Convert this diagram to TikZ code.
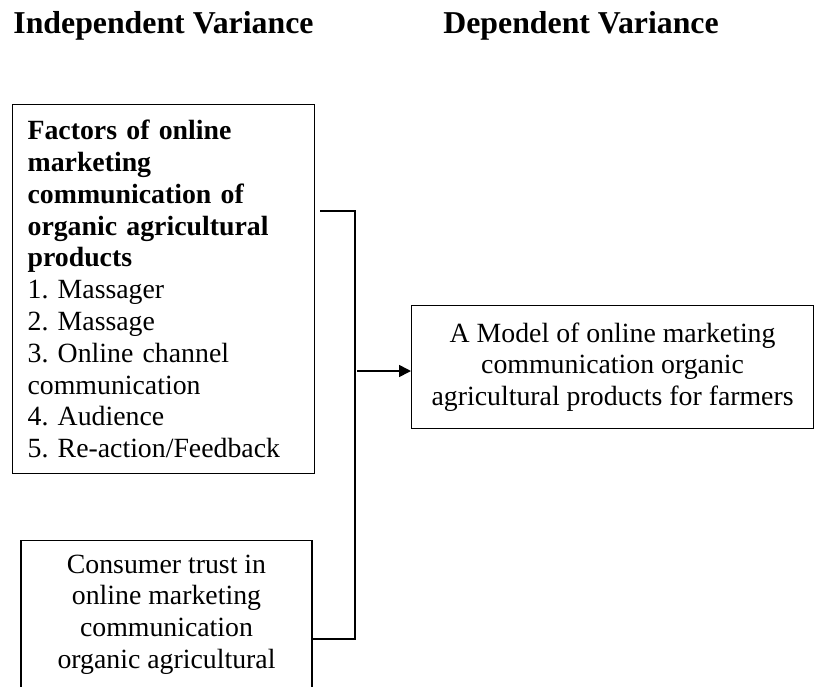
\documentclass[tikz,border=0pt]{standalone}
\usepackage{fontspec}
\setmainfont{Liberation Serif}
\usepackage{tikz}
\usetikzlibrary{calc,arrows.meta,positioning}
\newcommand{\bodyfont}{\fontsize{13.9pt}{15.9pt}\selectfont\frenchspacing}
\newcommand{\headfont}{\fontsize{15.9pt}{18pt}\selectfont\bfseries}
\tikzset{
  ar/.style={-{Triangle[length=6pt,width=6pt]},line width=0.8pt},
  ln/.style={line width=0.6pt},
  box/.style={draw,line width=0.6pt,inner sep=7.5pt,font=\bodyfont},
  head/.style={anchor=base west,inner sep=0pt,font=\headfont}
}

\begin{document}
\begin{tikzpicture}[x=0.5pt,y=-0.5pt]
\clip (0,0) rectangle (814,686);
\node[head] (indep) at (13,33) {Independent Variance};
\node[head] (dep) at (443,33) {Dependent Variance};
\node[box,anchor=north west,text width=136pt,minimum height=184.5pt,align=left] (fac) at (12,104)
  {\textbf{Factors of online}\\ \textbf{marketing}\\ \textbf{communication of}\\ \textbf{organic agricultural}\\ \textbf{products}\\
   1. Massager\\ 2. Massage\\ 3. Online channel\\ communication\\ 4. Audience\\ 5. Re-action/Feedback};
\node[box,anchor=north west,minimum width=201pt,minimum height=61.5pt,align=center] (model) at (411,305)
  {A Model of online marketing\\ communication organic\\ agricultural products for farmers};
\node[box,anchor=north,minimum width=145.5pt,inner ysep=7pt,align=center] (trust) at (166.5,540)
  {Consumer trust in\\ online marketing\\ communication\\ organic agricultural};
\coordinate (jt) at (355,211);
\coordinate (jb) at (355,639);
\coordinate (ja) at (357,371);
\draw[ln] ($(fac.east |- jt)+(5,0)$) -- (jt) -- (jb) -- (trust.east |- jb);
\draw[ar] (ja) -- (model.west |- ja);
\end{tikzpicture}
\end{document}
